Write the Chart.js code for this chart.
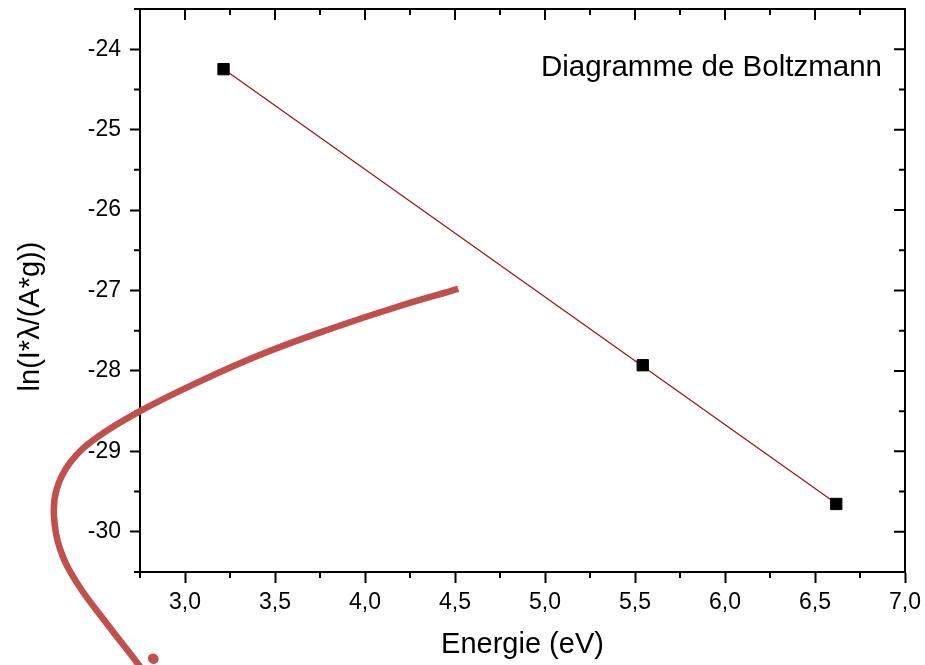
<!DOCTYPE html>
<html>
<head>
<meta charset="utf-8">
<script src="https://cdn.jsdelivr.net/npm/chart.js@4.4.1/dist/chart.umd.min.js"></script>
<style>
  html, body { margin: 0; padding: 0; background: #ffffff; }
  #wrap { width: 925px; height: 665px; }
</style>
</head>
<body>
<div id="wrap"><canvas id="c" width="925" height="665"></canvas></div>
<script>
// ---- data ----
const energy = [3.214, 5.543, 6.618];            // eV
const lnValues = [-24.248, -27.929, -29.654];    // ln(I*λ/(A*g))
const fitEnergy = [3.214, 6.618];
const fitLn = [-24.245, -29.647];
// hand-drawn red annotation curve (data coordinates)
const curveX = [4.518, 4.176, 3.806, 3.435, 3.065, 2.750, 2.509, 2.361, 2.287, 2.272, 2.306, 2.398, 2.546, 2.732, 2.778];
const curveY = [-26.981, -27.205, -27.478, -27.784, -28.148, -28.500, -28.830, -29.141, -29.471, -29.803, -30.216, -30.629, -31.084, -31.622, -31.77];
// small red dot next to the curve's lower end (a very short stroke with round caps)
const dotX = [2.822, 2.826];
const dotY = [-31.574, -31.582];

const xTickValues = [3.0, 3.5, 4.0, 4.5, 5.0, 5.5, 6.0, 6.5, 7.0];
const xTickLabels = ['3,0', '3,5', '4,0', '4,5', '5,0', '5,5', '6,0', '6,5', '7,0'];
const xMinorTicks = [2.75, 3.25, 3.75, 4.25, 4.75, 5.25, 5.75, 6.25, 6.75];
const yTickValues = [-30, -29, -28, -27, -26, -25, -24];
const yTickLabels = ['-30', '-29', '-28', '-27', '-26', '-25', '-24'];
const yMinorTicks = [-30.5, -29.5, -28.5, -27.5, -26.5, -25.5, -24.5, -23.5];

const chartTitle = 'Diagramme de Boltzmann';
const xTitle = 'Energie (eV)';
const yTitle = 'ln(I*\u03bb/(A*g))';

const FONT = "'Liberation Sans', Arial, sans-serif";

function pts(xs, ys) { return xs.map((x, i) => ({ x: x, y: ys[i] })); }

const framePlugin = {
  id: 'frame',
  beforeDatasetsDraw(chart) {
    const ctx = chart.ctx;
    const a = chart.chartArea;
    const xs = chart.scales.x, ys = chart.scales.y;
    ctx.save();
    ctx.strokeStyle = '#000';
    ctx.lineWidth = 2;
    ctx.beginPath();
    // top and right frame
    ctx.moveTo(a.left - 1, a.top); ctx.lineTo(a.right, a.top); ctx.lineTo(a.right, a.bottom + 1);
    // major ticks inward on top & right
    xTickValues.forEach(v => { const p = xs.getPixelForValue(v); ctx.moveTo(p, a.top); ctx.lineTo(p, a.top + 11); });
    yTickValues.forEach(v => { const p = ys.getPixelForValue(v); ctx.moveTo(a.right, p); ctx.lineTo(a.right - 11, p); });
    // minor ticks
    xMinorTicks.forEach(v => {
      const p = xs.getPixelForValue(v);
      ctx.moveTo(p, a.bottom); ctx.lineTo(p, a.bottom + 6);
      ctx.moveTo(p, a.top); ctx.lineTo(p, a.top + 6);
    });
    yMinorTicks.forEach(v => {
      const p = ys.getPixelForValue(v);
      ctx.moveTo(a.left, p); ctx.lineTo(a.left - 6, p);
      ctx.moveTo(a.right, p); ctx.lineTo(a.right - 6, p);
    });
    ctx.stroke();
    // in-plot title
    ctx.fillStyle = '#000';
    ctx.font = '29.5px ' + FONT;
    ctx.textAlign = 'right';
    ctx.textBaseline = 'alphabetic';
    ctx.fillText(chartTitle, a.right - 23, a.top + 67);
    // y-axis title
    ctx.translate(31, (a.top + a.bottom) / 2 + 26);
    ctx.rotate(-Math.PI / 2);
    ctx.textAlign = 'center';
    ctx.textBaseline = 'middle';
    ctx.font = '29px ' + FONT;
    ctx.fillText(yTitle, 0, 0);
    ctx.restore();
  }
};

new Chart(document.getElementById('c'), {
  type: 'scatter',
  data: {
    datasets: [
      {
        data: pts(curveX, curveY),
        showLine: true,
        borderColor: '#c0504d',
        borderWidth: 6.5,
        tension: 0.4,
        pointRadius: 0,
        borderCapStyle: 'butt',
        clip: false
      },
      {
        data: pts(energy, lnValues),
        showLine: false,
        pointStyle: 'rect',
        pointRadius: 8,
        backgroundColor: '#000',
        borderColor: '#000',
        borderWidth: 1
      },
      {
        data: pts(fitEnergy, fitLn),
        showLine: true,
        borderColor: '#a01010',
        borderWidth: 1.2,
        pointRadius: 0
      },
      {
        data: pts(dotX, dotY),
        showLine: true,
        borderColor: '#c0504d',
        borderWidth: 10,
        borderCapStyle: 'round',
        pointRadius: 0,
        clip: false
      }
    ]
  },
  options: {
    responsive: false,
    animation: false,
    layout: { padding: { top: 8, right: 20, left: 0, bottom: 0 } },
    plugins: { legend: { display: false }, tooltip: { enabled: false } },
    scales: {
      x: {
        type: 'linear',
        min: 2.75, max: 7.0,
        afterBuildTicks: s => { s.ticks = xTickValues.map(v => ({ value: v })); },
        afterFit: s => { s.height = 93; s.paddingLeft = 0; s.paddingRight = 0; },
        ticks: {
          autoSkip: false,
          maxRotation: 0,
          padding: 6,
          color: '#000',
          font: { family: FONT, size: 23 },
          callback: (v) => xTickLabels[xTickValues.indexOf(v)]
        },
        grid: { display: true, drawOnChartArea: false, drawTicks: true, tickLength: 11, tickColor: '#000', tickWidth: 2 },
        border: { display: true, color: '#000', width: 2 },
        title: { display: true, text: xTitle, color: '#000', font: { family: FONT, size: 29 }, padding: { top: 0, bottom: 3 } }
      },
      y: {
        type: 'linear',
        min: -30.5, max: -23.5,
        afterBuildTicks: s => { s.ticks = yTickValues.map(v => ({ value: v })); },
        afterFit: s => { s.width = 140; s.paddingTop = 0; s.paddingBottom = 0; },
        ticks: {
          autoSkip: false,
          padding: 9,
          color: '#000',
          font: { family: FONT, size: 23 },
          callback: (v) => yTickLabels[yTickValues.indexOf(v)]
        },
        grid: { display: true, drawOnChartArea: false, drawTicks: true, tickLength: 10, tickColor: '#000', tickWidth: 2 },
        border: { display: true, color: '#000', width: 2 },
        title: { display: false }
      }
    }
  },
  plugins: [framePlugin]
});
</script>
</body>
</html>
